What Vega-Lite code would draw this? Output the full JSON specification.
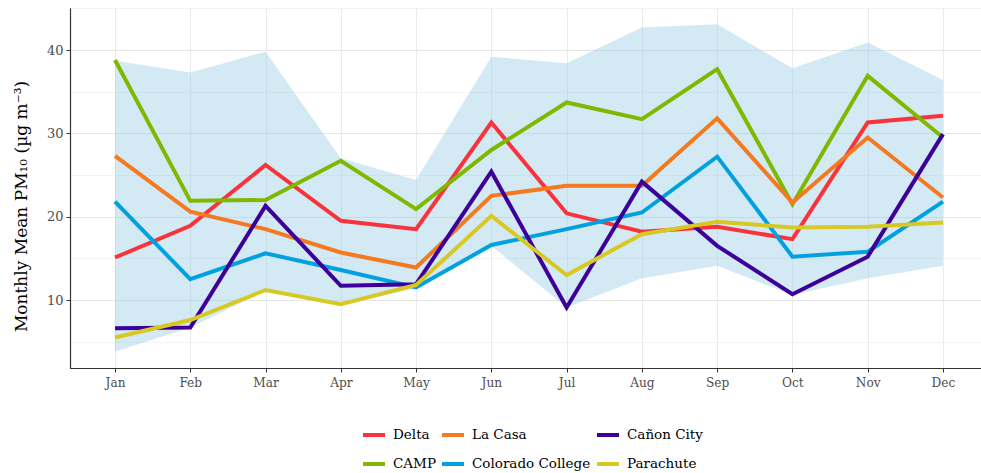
{
  "$schema": "https://vega.github.io/schema/vega-lite/v6.json",
  "width": 911,
  "height": 360,
  "autosize": "none",
  "padding": {"left": 70, "top": 8, "right": 0, "bottom": 105},
  "background": "white",
  "config": {
    "font": "DejaVu Serif",
    "view": {"stroke": "#333333", "strokeWidth": 1},
    "axis": {
      "domainColor": "#333333",
      "domainWidth": 1.2,
      "tickColor": "#333333",
      "tickSize": 4,
      "tickWidth": 1,
      "labelColor": "#4d4d4d",
      "labelFont": "DejaVu Serif Condensed",
      "labelFontSize": 13.5,
      "labelPadding": 3,
      "titleFont": "DejaVu Serif",
      "titleFontSize": 17,
      "titleColor": "#000000",
      "titleFontWeight": "normal",
      "gridColor": "#ebebeb",
      "gridWidth": 1
    },
    "legend": {
      "orient": "none",
      "legendX": 291,
      "legendY": 414,
      "direction": "horizontal",
      "columns": 3,
      "symbolType": "stroke",
      "symbolSize": 484,
      "symbolStrokeWidth": 4,
      "labelFont": "DejaVu Serif",
      "labelFontSize": 13.5,
      "labelColor": "#000000",
      "labelOffset": 6,
      "rowPadding": 8,
      "columnPadding": -2,
      "title": null
    }
  },
  "datasets": {
    "ribbon": [
      {"month": "Jan", "lo": 3.8, "hi": 38.7},
      {"month": "Feb", "lo": 6.7, "hi": 37.3},
      {"month": "Mar", "lo": 11.1, "hi": 39.8},
      {"month": "Apr", "lo": 9.4, "hi": 27.0},
      {"month": "May", "lo": 11.4, "hi": 24.4},
      {"month": "Jun", "lo": 16.5, "hi": 39.2},
      {"month": "Jul", "lo": 9.1, "hi": 38.4},
      {"month": "Aug", "lo": 12.6, "hi": 42.7},
      {"month": "Sep", "lo": 14.1, "hi": 43.1},
      {"month": "Oct", "lo": 10.6, "hi": 37.8},
      {"month": "Nov", "lo": 12.6, "hi": 40.9},
      {"month": "Dec", "lo": 14.1, "hi": 36.4}
    ],
    "series": [
      {"site": "Delta", "month": "Jan", "pm": 15.1},
      {"site": "Delta", "month": "Feb", "pm": 18.9},
      {"site": "Delta", "month": "Mar", "pm": 26.2},
      {"site": "Delta", "month": "Apr", "pm": 19.5},
      {"site": "Delta", "month": "May", "pm": 18.5},
      {"site": "Delta", "month": "Jun", "pm": 31.3},
      {"site": "Delta", "month": "Jul", "pm": 20.4},
      {"site": "Delta", "month": "Aug", "pm": 18.2},
      {"site": "Delta", "month": "Sep", "pm": 18.8},
      {"site": "Delta", "month": "Oct", "pm": 17.3},
      {"site": "Delta", "month": "Nov", "pm": 31.3},
      {"site": "Delta", "month": "Dec", "pm": 32.1},
      {"site": "CAMP", "month": "Jan", "pm": 38.8},
      {"site": "CAMP", "month": "Feb", "pm": 21.9},
      {"site": "CAMP", "month": "Mar", "pm": 22.0},
      {"site": "CAMP", "month": "Apr", "pm": 26.7},
      {"site": "CAMP", "month": "May", "pm": 20.9},
      {"site": "CAMP", "month": "Jun", "pm": 28.0},
      {"site": "CAMP", "month": "Jul", "pm": 33.7},
      {"site": "CAMP", "month": "Aug", "pm": 31.7},
      {"site": "CAMP", "month": "Sep", "pm": 37.7},
      {"site": "CAMP", "month": "Oct", "pm": 21.5},
      {"site": "CAMP", "month": "Nov", "pm": 36.9},
      {"site": "CAMP", "month": "Dec", "pm": 29.5},
      {"site": "La Casa", "month": "Jan", "pm": 27.3},
      {"site": "La Casa", "month": "Feb", "pm": 20.6},
      {"site": "La Casa", "month": "Mar", "pm": 18.5},
      {"site": "La Casa", "month": "Apr", "pm": 15.7},
      {"site": "La Casa", "month": "May", "pm": 13.9},
      {"site": "La Casa", "month": "Jun", "pm": 22.5},
      {"site": "La Casa", "month": "Jul", "pm": 23.7},
      {"site": "La Casa", "month": "Aug", "pm": 23.7},
      {"site": "La Casa", "month": "Sep", "pm": 31.8},
      {"site": "La Casa", "month": "Oct", "pm": 21.7},
      {"site": "La Casa", "month": "Nov", "pm": 29.5},
      {"site": "La Casa", "month": "Dec", "pm": 22.3},
      {"site": "Colorado College", "month": "Jan", "pm": 21.8},
      {"site": "Colorado College", "month": "Feb", "pm": 12.5},
      {"site": "Colorado College", "month": "Mar", "pm": 15.6},
      {"site": "Colorado College", "month": "Apr", "pm": 13.6},
      {"site": "Colorado College", "month": "May", "pm": 11.5},
      {"site": "Colorado College", "month": "Jun", "pm": 16.6},
      {"site": "Colorado College", "month": "Jul", "pm": 18.5},
      {"site": "Colorado College", "month": "Aug", "pm": 20.5},
      {"site": "Colorado College", "month": "Sep", "pm": 27.2},
      {"site": "Colorado College", "month": "Oct", "pm": 15.2},
      {"site": "Colorado College", "month": "Nov", "pm": 15.8},
      {"site": "Colorado College", "month": "Dec", "pm": 21.8},
      {"site": "Cañon City", "month": "Jan", "pm": 6.6},
      {"site": "Cañon City", "month": "Feb", "pm": 6.7},
      {"site": "Cañon City", "month": "Mar", "pm": 21.3},
      {"site": "Cañon City", "month": "Apr", "pm": 11.7},
      {"site": "Cañon City", "month": "May", "pm": 11.9},
      {"site": "Cañon City", "month": "Jun", "pm": 25.4},
      {"site": "Cañon City", "month": "Jul", "pm": 9.1},
      {"site": "Cañon City", "month": "Aug", "pm": 24.2},
      {"site": "Cañon City", "month": "Sep", "pm": 16.5},
      {"site": "Cañon City", "month": "Oct", "pm": 10.7},
      {"site": "Cañon City", "month": "Nov", "pm": 15.2},
      {"site": "Cañon City", "month": "Dec", "pm": 29.9},
      {"site": "Parachute", "month": "Jan", "pm": 5.5},
      {"site": "Parachute", "month": "Feb", "pm": 7.6},
      {"site": "Parachute", "month": "Mar", "pm": 11.2},
      {"site": "Parachute", "month": "Apr", "pm": 9.5},
      {"site": "Parachute", "month": "May", "pm": 11.8},
      {"site": "Parachute", "month": "Jun", "pm": 20.1},
      {"site": "Parachute", "month": "Jul", "pm": 13.0},
      {"site": "Parachute", "month": "Aug", "pm": 17.9},
      {"site": "Parachute", "month": "Sep", "pm": 19.4},
      {"site": "Parachute", "month": "Oct", "pm": 18.7},
      {"site": "Parachute", "month": "Nov", "pm": 18.8},
      {"site": "Parachute", "month": "Dec", "pm": 19.3}
    ]
  },
  "layer": [
    {
      "data": {"name": "ribbon"},
      "mark": {"type": "area", "fill": "#91cbe6", "opacity": 0.4},
      "encoding": {
        "x": {
          "field": "month", "type": "ordinal",
          "scale": {"type": "point", "domain": ["Jan","Feb","Mar","Apr","May","Jun","Jul","Aug","Sep","Oct","Nov","Dec"], "padding": 0.5514, "align": 0.542},
          "axis": {"title": null, "labelAngle": 0, "grid": true}
        },
        "y": {
          "field": "lo", "type": "quantitative",
          "scale": {"domain": [1.84, 45.04], "nice": false, "zero": false},
          "axis": {
            "title": "Monthly Mean PM₁₀ (µg m⁻³)",
            "values": [5, 10, 15, 20, 25, 30, 35, 40, 45],
            "labelExpr": "datum.value % 10 === 0 ? datum.label : ''",
            "labelFont": "DejaVu Serif",
            "labelFontSize": 13,
            "tickOpacity": {"condition": {"test": "datum.value % 10 === 0", "value": 1}, "value": 0},
            "gridColor": {"condition": {"test": "datum.value % 10 === 0", "value": "#e6e6e6"}, "value": "#f2f2f2"},
            "titlePadding": 16,
            "titleY": 198
          }
        },
        "y2": {"field": "hi"}
      }
    },
    {
      "data": {"name": "series"},
      "mark": {"type": "line", "strokeWidth": 4, "strokeJoin": "miter"},
      "encoding": {
        "x": {"field": "month", "type": "ordinal", "axis": {"title": null, "labelAngle": 0, "grid": true}},
        "y": {"field": "pm", "type": "quantitative", "axis": {"title": "Monthly Mean PM₁₀ (µg m⁻³)"}},
        "color": {
          "field": "site", "type": "nominal",
          "scale": {
            "domain": ["Delta", "La Casa", "Cañon City", "CAMP", "Colorado College", "Parachute"],
            "range": ["#f8333c", "#f37a20", "#3d0099", "#7fb800", "#00a1de", "#d8c824"]
          }
        }
      }
    }
  ]
}
